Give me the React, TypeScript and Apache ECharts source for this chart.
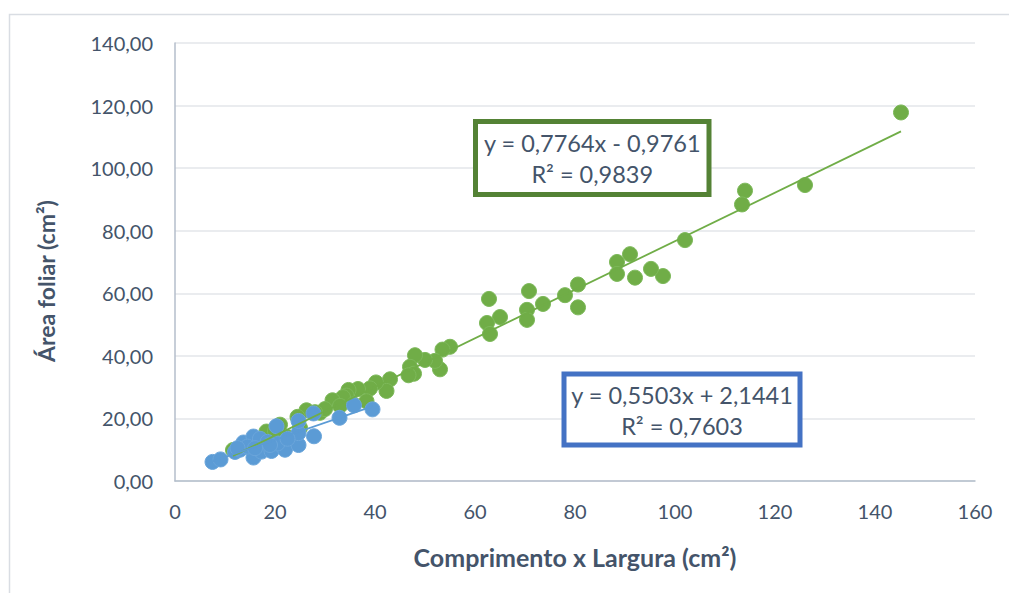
import React, { useEffect, useRef } from "react";
import * as echarts from "echarts";

const greenPoints: [number, number][] = [
  [145.2, 117.8], [126, 94.6], [114, 92.8], [113.4, 88.4], [102, 77],
  [97.6, 65.5], [95.2, 67.8], [92, 65], [91, 72.5], [88.4, 70], [88.4, 66.2],
  [80.6, 62.8], [80.6, 55.5], [78, 59.4], [73.6, 56.6], [70.8, 60.7],
  [70.4, 54.7], [70.4, 51.5], [65, 52.4], [62.8, 58.2], [62.4, 50.5], [63, 47],
  [55, 42.9], [53.5, 42], [53, 35.7], [52, 38.4], [50, 38.7], [48, 40.2],
  [47, 36.5], [47.8, 34.3], [46.7, 33.8], [43, 32.5], [42.3, 28.8], [40.2, 31.5],
  [39, 29.6], [36.6, 29.4], [34.7, 29.1], [34.3, 27.3], [33.6, 26.8], [31.5, 25.8],
  [38.3, 25.5], [35.7, 24.5], [29, 21.8], [30, 23], [26.3, 22.6], [24.5, 20.5],
  [21, 18], [22.6, 14], [18.3, 15.8], [11.6, 9.9], [14, 11], [16.5, 12.5],
  [20, 16], [28, 22], [33, 24], [25, 17],
];

const bluePoints: [number, number][] = [
  [7.5, 6.1], [9.1, 6.9], [12, 9.3], [13, 10], [13.7, 12.3], [15.7, 14.2],
  [15.7, 7.5], [17.3, 9.4], [19.3, 9.6], [22, 10], [24.7, 11.5], [27.8, 14.3],
  [20.3, 17.5], [24.7, 15.3], [24.7, 19.2], [27.7, 21.6], [32.9, 20.2],
  [35.8, 24.2], [39.5, 22.9], [17, 13.5], [18.5, 12.5], [14.5, 11], [16, 10.5],
  [20.5, 12], [22.5, 13.5], [12.5, 10.5], [19, 11.5],
];

// Trendline equations shown in the chart
const greenFit = { slope: 0.7764, intercept: -0.9761, xMin: 11.6, xMax: 145.2 };
const blueFit = { slope: 0.5503, intercept: 2.1441, xMin: 7.5, xMax: 39.5 };

const greenLabel = ["y = 0,7764x - 0,9761", "R² = 0,9839"];
const blueLabel = ["y = 0,5503x + 2,1441", "R² = 0,7603"];

const xTitle = "Comprimento x Largura (cm²)";
const yTitle = "Área foliar (cm²)";

const FONT = "Lato, 'Noto Sans', sans-serif";
const TXT = "#44546A";

function fitLine(f: { slope: number; intercept: number; xMin: number; xMax: number }) {
  return [
    [f.xMin, f.slope * f.xMin + f.intercept],
    [f.xMax, f.slope * f.xMax + f.intercept],
  ];
}

function box(x: number, y: number, w: number, h: number, color: string, lines: string[]) {
  return {
    type: "group",
    children: [
      {
        type: "rect",
        shape: { x, y, width: w, height: h },
        style: { fill: "#fff", stroke: color, lineWidth: 5 },
        z: 100,
      },
      {
        type: "text",
        x: x + w / 2,
        y: y + h / 2 - 15,
        style: { text: lines[0], fill: TXT, font: `23.5px ${FONT}`, textAlign: "center", textVerticalAlign: "middle" },
        z: 101,
      },
      {
        type: "text",
        x: x + w / 2,
        y: y + h / 2 + 16,
        style: { text: lines[1], fill: TXT, font: `23.5px ${FONT}`, textAlign: "center", textVerticalAlign: "middle" },
        z: 101,
      },
    ],
  };
}

export default function App() {
  const ref = useRef<HTMLDivElement>(null);
  useEffect(() => {
    if (!ref.current) return;
    const chart = echarts.init(ref.current, undefined, { renderer: "svg" });
    chart.setOption({
      animation: false,
      backgroundColor: "#fff",
      grid: { left: 175, right: 34, top: 43, bottom: 112 },
      xAxis: {
        type: "value",
        min: 0,
        max: 160,
        interval: 20,
        name: xTitle,
        nameLocation: "middle",
        nameGap: 63,
        nameTextStyle: { color: TXT, fontFamily: FONT, fontSize: 25, fontWeight: "bold" },
        axisLine: { show: true, lineStyle: { color: "#B4BECB", width: 1.5 } },
        axisTick: { show: false },
        axisLabel: { color: TXT, fontFamily: FONT, fontSize: 20, margin: 20 },
        splitLine: { show: false },
      },
      yAxis: {
        type: "value",
        min: 0,
        max: 140,
        interval: 20,
        axisLine: { show: true, lineStyle: { color: "#B4BECB", width: 1.5 } },
        axisTick: { show: false },
        axisLabel: {
          color: TXT,
          fontFamily: FONT,
          fontSize: 20,
          margin: 22,
          formatter: (v: number) => v.toFixed(2).replace(".", ","),
        },
        splitLine: { show: true, lineStyle: { color: "#E3E6EA", width: 1.5 } },
      },
      series: [
        {
          type: "scatter",
          data: greenPoints,
          symbolSize: 15,
          itemStyle: { color: "#70AD47", borderColor: "#7DB95A", borderWidth: 1, opacity: 1 },
          z: 2,
        },
        {
          type: "scatter",
          data: bluePoints,
          symbolSize: 15,
          itemStyle: { color: "#5B9BD5", borderColor: "#6BA6DB", borderWidth: 1, opacity: 1 },
          z: 3,
        },
        {
          type: "line",
          data: fitLine(greenFit),
          symbol: "none",
          lineStyle: { color: "#70AD47", width: 1.8 },
          z: 4,
        },
        {
          type: "line",
          data: fitLine(blueFit),
          symbol: "none",
          lineStyle: { color: "#5B9BD5", width: 1.8 },
          z: 4,
        },
      ],
      graphic: [
        {
          type: "rect",
          shape: { x: 9.5, y: 14.5, width: 1100, height: 700 },
          style: { fill: "none", stroke: "#D9DDE3", lineWidth: 1.5 },
          silent: true,
        },
        {
          type: "text",
          x: 46,
          y: 281,
          rotation: Math.PI / 2,
          style: {
            text: yTitle,
            fill: TXT,
            font: `bold 23px ${FONT}`,
            textAlign: "center",
            textVerticalAlign: "middle",
          },
        },
        box(475.5, 121.5, 233.5, 73, "#548235", greenLabel),
        box(564, 374, 236, 71, "#4472C4", blueLabel),
      ],
    });
    return () => chart.dispose();
  }, []);
  return (
    <div
      ref={ref}
      style={{ position: "fixed", left: 0, top: 0, width: 1009, height: 593 }}
    />
  );
}
